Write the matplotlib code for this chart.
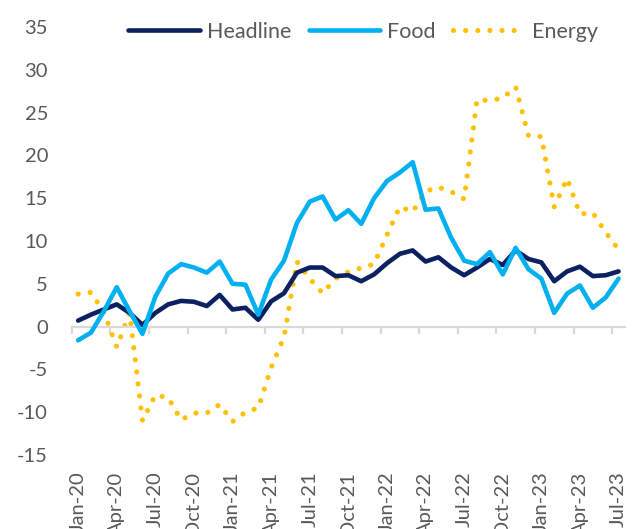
import numpy as np
import matplotlib
matplotlib.use("Agg")
import matplotlib.pyplot as plt

plt.rcParams['font.family'] = ['Lato', 'DejaVu Sans']

# monthly y/y %, Jan-20 .. Jul-23
months = ["Jan-20", "Feb-20", "Mar-20", "Apr-20", "May-20", "Jun-20", "Jul-20", "Aug-20", "Sep-20",
          "Oct-20", "Nov-20", "Dec-20", "Jan-21", "Feb-21", "Mar-21", "Apr-21", "May-21", "Jun-21",
          "Jul-21", "Aug-21", "Sep-21", "Oct-21", "Nov-21", "Dec-21", "Jan-22", "Feb-22", "Mar-22",
          "Apr-22", "May-22", "Jun-22", "Jul-22", "Aug-22", "Sep-22", "Oct-22", "Nov-22", "Dec-22",
          "Jan-23", "Feb-23", "Mar-23", "Apr-23", "May-23", "Jun-23", "Jul-23"]

headline = [0.7, 1.4, 2.0, 2.6, 1.6, 0.2, 1.6, 2.6, 3.0, 2.9, 2.4, 3.7, 2.0, 2.2, 0.8,
            2.95, 3.9, 6.3, 6.9, 6.9, 5.9, 6.0, 5.3, 6.1, 7.4, 8.5, 8.9, 7.6, 8.1, 6.9,
            6.0, 6.9, 7.9, 7.2, 8.9, 7.9, 7.5, 5.3, 6.45, 7.0, 5.9, 6.0, 6.45]

food = [-1.6, -0.7, 1.8, 4.6, 1.8, -0.85, 3.5, 6.2, 7.3, 6.9, 6.3, 7.6, 5.0, 4.9, 1.4,
        5.5, 7.7, 12.1, 14.6, 15.2, 12.5, 13.6, 12.0, 15.0, 17.0, 18.0, 19.2, 13.65, 13.8, 10.35,
        7.7, 7.3, 8.7, 6.1, 9.2, 6.7, 5.6, 1.6, 3.85, 4.8, 2.2, 3.4, 5.6]

energy = [3.8, 4.0, 1.7, -2.4, 1.6, -11.0, -8.0, -8.3, -10.9, -10.1, -10.1, -9.1, -11.1, -10.0, -9.5,
          -4.8, -1.2, 7.6, 5.6, 3.9, 5.6, 6.4, 6.85, 7.3, 10.7, 14.0, 13.4, 15.8, 16.3, 15.75,
          14.9, 26.5, 26.4, 26.7, 28.0, 22.3, 22.2, 14.0, 17.3, 13.15, 13.3, 11.0, 9.0]

yticks = [-15, -10, -5, 0, 5, 10, 15, 20, 25, 30, 35]

navy = "#0B2161"
sky = "#00B0F0"
gold = "#FFC000"
grey = "#595959"

fig = plt.figure(figsize=(6.33, 5.29), dpi=100)
ax = fig.add_axes([71.7 / 633, 74 / 529, (625 - 71.7) / 633, 428 / 529])

x = np.arange(len(months))
ax.plot(x, headline, color=navy, lw=3.3, solid_capstyle='round', solid_joinstyle='round', label="Headline", zorder=3)
ax.plot(x, food, color=sky, lw=3.3, solid_capstyle='round', solid_joinstyle='round', label="Food", zorder=4)
ax.plot(x, energy, color=gold, lw=3.7, linestyle=(0, (0.01, 2.35)), dash_capstyle='round', label="Energy", zorder=2)

ax.set_xlim(-0.5, len(months) - 0.5)
ax.set_ylim(-15, 35)

# axis line at zero with tick marks between every third category
for s in ['top', 'right', 'left']:
    ax.spines[s].set_visible(False)
ax.spines['bottom'].set_position(('data', 0))
ax.spines['bottom'].set_color("#D9D9D9")
ax.spines['bottom'].set_linewidth(1.6)
ax.set_xticks(np.arange(-0.5, len(months), 3))
ax.set_xticklabels([])
ax.tick_params(axis='x', direction='out', length=5, width=1.6, color="#D9D9D9")

# category labels at the bottom
for i in range(0, len(months), 3):
    ax.text(i, -0.039, months[i], transform=ax.get_xaxis_transform(), rotation=90,
            ha='center', va='top', fontsize=14.5, color=grey)

ax.set_yticks(yticks)
ax.set_yticklabels([str(t) for t in yticks])
ax.tick_params(axis='y', length=0, pad=17, labelsize=14.5, labelcolor=grey)

ax.legend(loc='center', bbox_to_anchor=(363 / 633, 1 - 31.5 / 529), bbox_transform=fig.transFigure,
          ncol=3, frameon=False, fontsize=15.5, labelcolor=grey, handlelength=3.3,
          handletextpad=0.35, columnspacing=0.8)

fig.savefig("out.png", dpi=100)
